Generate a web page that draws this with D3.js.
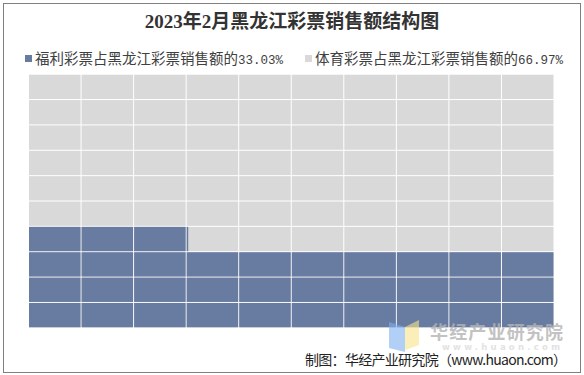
<!DOCTYPE html>
<html>
<head>
<meta charset="utf-8">
<script src="https://cdn.jsdelivr.net/npm/d3@7"></script>
<style>
  html, body { margin: 0; padding: 0; background: #fff; }
  svg { display: block; }
</style>
</head>
<body>
<div id="chart"></div>
<script>
// chart data
const title = '2023年2月黑龙江彩票销售额结构图'
const categories = ['福利彩票占黑龙江彩票销售额的', '体育彩票占黑龙江彩票销售额的']
const shares = [33.03, 66.97]
const colors = ['#687ca2', '#d9d9d9']
const source = '制图：华经产业研究院（www.huaon.com）'

const width = 584
const height = 375
const cols = d3.range(10)
const rows = d3.range(10)

const svg = d3.select('#chart').append('svg')
    .attr('width', width)
    .attr('height', height)

// outer frame
svg.append('rect')
    .attr('x', 3.5).attr('y', 3.5)
    .attr('width', 577).attr('height', 369)
    .attr('fill', 'none')
    .attr('stroke', '#808080')
    .attr('stroke-width', 1)

svg.append('text')
    .attr('x', 292).attr('y', 21)
    .attr('text-anchor', 'middle')
    .attr('dominant-baseline', 'central')
    .style('font', 'bold 19px "Liberation Serif", "Noto Sans CJK SC", serif')
    .attr('fill', '#333')
    .text(title)

// legend
const legendX = [25, 305]
const legend = svg.append('g')
    .selectAll('g')
    .data(categories)
    .join('g')
    .attr('transform', (d, i) => `translate(${legendX[i]},58.5)`)
legend.append('rect')
    .attr('x', 0).attr('y', -3.5)
    .attr('width', 7).attr('height', 7)
    .attr('fill', (d, i) => colors[i])
const ltext = legend.append('text')
    .attr('x', 10).attr('y', 5)
    .style('font', '14.5px "Noto Sans CJK SC", sans-serif')
    .attr('fill', '#404040')
ltext.append('tspan').text(d => d)
ltext.append('tspan')
    .style('font', '12.5px "Liberation Mono", monospace')
    .text((d, i) => shares[i].toFixed(2) + '%')

// waffle grid, 100 cells, filled from the bottom left
const x = d3.scaleBand().domain(cols).range([29, 554.5])
const y = d3.scaleBand().domain(rows).range([328.3, 74.7])

const cells = d3.range(100).map(i => ({
    col: i % 10,
    row: Math.floor(i / 10),
    fill: Math.max(0, Math.min(1, shares[0] - i))
}))

const grid = svg.append('g')
grid.selectAll('rect.bg')
    .data(cells)
    .join('rect')
    .attr('class', 'bg')
    .attr('x', d => x(d.col))
    .attr('y', d => y(d.row))
    .attr('width', x.bandwidth() - 1)
    .attr('height', y.bandwidth() - 1)
    .attr('fill', colors[1])
grid.selectAll('rect.fg')
    .data(cells.filter(d => d.fill > 0))
    .join('rect')
    .attr('class', 'fg')
    .attr('x', d => x(d.col))
    .attr('y', d => y(d.row))
    .attr('width', d => d.fill === 1 ? x.bandwidth() - 1 : d.fill * x.bandwidth())
    .attr('height', y.bandwidth() - 1)
    .attr('fill', colors[0])

svg.append('text')
    .attr('x', 305).attr('y', 358.5)
    .attr('dominant-baseline', 'central')
    .style('font', '14px "Noto Sans CJK SC", sans-serif')
    .attr('fill', '#222')
    .attr('textLength', 262)
    .text(source)

// watermark
const wm = svg.append('g')
wm.append('path')
    .attr('d', 'M389,322 L405,327 L405,352 L389,348 Z')
    .attr('fill', '#7fb0f0')
    .attr('opacity', 0.6)
wm.append('path')
    .attr('d', 'M405,327 L419,320 L419,345 L405,350 Z')
    .attr('fill', '#f8e58a')
    .attr('opacity', 0.6)
wm.append('text')
    .attr('x', 430).attr('y', 330.5)
    .attr('dominant-baseline', 'central')
    .style('font', 'bold 18px "Noto Sans CJK SC", sans-serif')
    .attr('fill', '#b4b4b4')
    .attr('opacity', 0.8)
    .attr('textLength', 133)
    .text('华经产业研究院')
wm.append('text')
    .attr('x', 442).attr('y', 347)
    .attr('dominant-baseline', 'central')
    .style('font', 'bold 8.5px "DejaVu Sans", sans-serif')
    .attr('fill', '#dcdcdc')
    .attr('opacity', 0.8)
    .attr('textLength', 118)
    .text('www.huaon.com')
</script>
</body>
</html>
